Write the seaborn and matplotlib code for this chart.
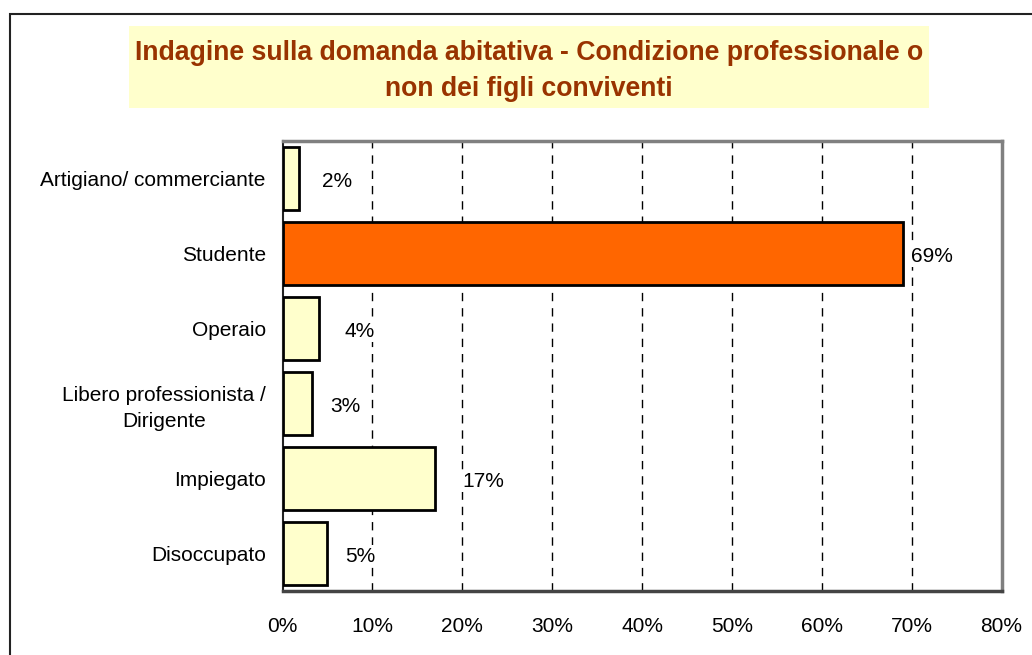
import matplotlib.pyplot as plt
import matplotlib.patches as mpatches
import seaborn as sns
import pandas as pd

# values (percent)
categories = ["Artigiano/ commerciante", "Studente", "Operaio",
              "Libero professionista /\nDirigente", "Impiegato", "Disoccupato"]
values = [1.8, 69.0, 4.1, 3.3, 17.0, 5.0]
bar_colors = ["#FFFFCC", "#FF6600", "#FFFFCC", "#FFFFCC", "#FFFFCC", "#FFFFCC"]
label_pad = [23, 8, 25, 18, 27, 18]  # pixels between bar end and label
x_ticks = [0, 10, 20, 30, 40, 50, 60, 70, 80]

df = pd.DataFrame({"categoria": categories, "valore": values})

sns.set_style("white")
plt.rcParams["font.family"] = ["Liberation Sans", "DejaVu Sans"]
plt.rcParams["text.color"] = "black"
plt.rcParams["xtick.color"] = "black"
plt.rcParams["ytick.color"] = "black"

W, H = 1032, 655
fig = plt.figure(figsize=(W / 100, H / 100), dpi=100)

# outer chart border (only left and top visible in the crop)
fig.patches.append(mpatches.Rectangle((9.5 / W, -0.1), 1.2, (H - 14) / H + 0.1,
                                      transform=fig.transFigure, fill=False,
                                      edgecolor="#222222", linewidth=1.5))

# title box
fig.patches.append(mpatches.Rectangle((129 / W, 1 - 108 / H), 800 / W, 82 / H,
                                      transform=fig.transFigure, facecolor="#FFFFCC",
                                      edgecolor="none"))
fig.text(529 / W, 1 - 71 / H,
         "Indagine sulla domanda abitativa - Condizione professionale o\nnon dei figli conviventi",
         ha="center", va="center", fontsize=19.2, fontweight="bold",
         color="#993300", linespacing=1.5)

ax = fig.add_axes([282.5 / W, 1 - 590.7 / H, 719 / W, 449.7 / H])

sns.barplot(data=df, y="categoria", x="valore", hue="categoria", palette=bar_colors,
            saturation=1, legend=False, orient="h", width=0.84, edgecolor="black",
            linewidth=2, ax=ax, zorder=3)

ax.set_xlim(0, 80)
ax.set_ylim(5.5, -0.5)
ax.set_xticks(x_ticks)
ax.set_xticklabels([f"{t}%" for t in x_ticks], fontsize=15)
ax.set_yticks(range(len(categories)))
ax.set_yticklabels(categories, fontsize=15, multialignment="center", linespacing=1.45)
ax.set_yticks([i - 0.5 for i in range(len(categories) + 1)], minor=True)
ax.tick_params(axis="y", which="major", length=0, pad=12)
ax.tick_params(axis="y", which="minor", length=6, width=1.2, color="#333333", direction="out")
ax.tick_params(axis="x", length=7, width=1.2, color="#333333", direction="out", pad=12)
ax.set_xlabel("")
ax.set_ylabel("")

for t in x_ticks[1:-1]:
    ax.axvline(t, color="black", linewidth=1, dashes=(6, 5), zorder=1)

for s in ["top", "right"]:
    ax.spines[s].set_color("#808080")
    ax.spines[s].set_linewidth(2.5)
ax.spines["left"].set_color("#222222")
ax.spines["left"].set_linewidth(1.5)
ax.spines["bottom"].set_color("#444444")
ax.spines["bottom"].set_linewidth(2.5)

for i, v in enumerate(values):
    ax.annotate(f"{round(v)}%", xy=(v, i), xytext=(label_pad[i], -3),
                textcoords="offset pixels", ha="left", va="center", fontsize=15,
                zorder=4, bbox=dict(facecolor="white", edgecolor="none", pad=1))

fig.savefig("out.png", dpi=100)
